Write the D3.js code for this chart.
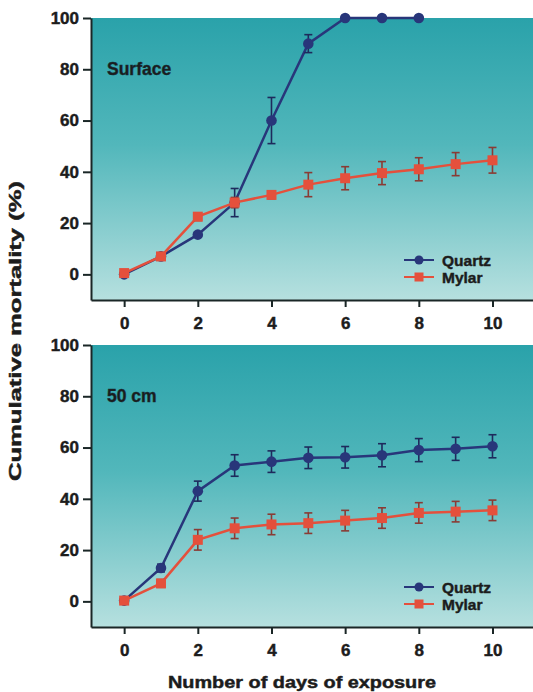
<!DOCTYPE html>
<html>
<head>
<meta charset="utf-8">
<script src="https://cdn.jsdelivr.net/npm/d3@7/dist/d3.min.js"></script>
<style>
  html, body { margin: 0; padding: 0; background: #ffffff; }
  svg { display: block; }
  text { font-family: "Liberation Sans", Arial, Helvetica, sans-serif; font-weight: bold; fill: #1c1c1c; stroke: #1c1c1c; stroke-width: 0.45px; }
</style>
</head>
<body>
<svg id="chart" width="533" height="692"></svg>
<script>
// Days of exposure
const days = [0, 1, 2, 3, 4, 5, 6, 7, 8, 9, 10];
const xTicks = [0, 2, 4, 6, 8, 10];
const yTicks = [0, 20, 40, 60, 80, 100];

// Surface: cumulative mortality (%) and error half-widths
const surfaceQuartz = [0, 7, 15.5, 28, 60, 90, 100, 100, 100];
const surfaceQuartzErr = [0, 1, 1, 5.5, 9, 3.5, 0, 0, 0];
const surfaceMylar = [0.5, 7, 22.5, 28, 31, 35, 37.5, 39.5, 41, 43, 44.5];
const surfaceMylarErr = [0, 1, 1.5, 2, 1.5, 4.7, 4.5, 4.5, 4.5, 4.5, 5];

// 50 cm: cumulative mortality (%) and error half-widths
const deepQuartz = [0.3, 13, 43, 53, 54.5, 56, 56.2, 57, 59, 59.5, 60.5];
const deepQuartzErr = [0, 1.5, 3.9, 4.2, 4.2, 4.2, 4.2, 4.5, 4.5, 4.5, 4.5];
const deepMylar = [0.3, 7, 24, 28.5, 30, 30.5, 31.5, 32.5, 34.5, 35, 35.5];
const deepMylarErr = [0, 1.5, 4, 4, 4, 4, 4, 4, 4, 4, 4];

const seriesNames = ["Quartz", "Mylar"];
const quartzColor = "#28367a";
const mylarColor = "#e4503c";

const svg = d3.select("#chart");

const defs = svg.append("defs");
const grad = defs.append("linearGradient")
  .attr("id", "bg").attr("x1", 0).attr("y1", 0).attr("x2", 0).attr("y2", 1);
grad.append("stop").attr("offset", "0%").attr("stop-color", "#2aa2aa");
grad.append("stop").attr("offset", "45%").attr("stop-color", "#52b7bb");
grad.append("stop").attr("offset", "100%").attr("stop-color", "#b6e0df");

const x = d3.scaleLinear().domain([-0.9, 11.1]).range([91, 533]);

function panel(top, bottom, label, quartz, quartzErr, mylar, mylarErr, legendY) {
  const y = d3.scaleLinear().domain([-10, 100]).range([bottom, top]);
  const g = svg.append("g");

  g.append("rect")
    .attr("x", x.range()[0]).attr("y", top)
    .attr("width", x.range()[1] - x.range()[0]).attr("height", bottom - top)
    .attr("fill", "url(#bg)");

  const yAxis = g.append("g")
    .attr("transform", `translate(${x.range()[0]},0)`)
    .call(d3.axisLeft(y).tickValues(yTicks).tickSize(8).tickSizeOuter(0).tickPadding(4));
  const xAxis = g.append("g")
    .attr("transform", `translate(0,${bottom})`)
    .call(d3.axisBottom(x).tickValues(xTicks).tickSize(7).tickSizeOuter(0).tickPadding(10));

  [yAxis, xAxis].forEach(a => {
    a.select(".domain").attr("stroke", "#1a2626").attr("stroke-width", 2);
    a.selectAll(".tick line").attr("stroke", "#1a2626").attr("stroke-width", 2);
    a.selectAll(".tick text")
      .attr("font-size", 17)
      .attr("font-family", "Liberation Sans, Arial, sans-serif")
      .attr("font-weight", "bold")
      .attr("fill", "#1c1c1c");
  });

  g.append("text")
    .attr("x", 107).attr("y", y(80) + 6)
    .attr("font-size", 17.5).attr("fill", "#14303a").style("stroke", "#14303a")
    .text(label);

  const line = d3.line().x((d, i) => x(days[i])).y(d => y(d));

  function drawSeries(vals, errs, color, errColor, shape) {
    const s = g.append("g");
    s.append("path").datum(vals)
      .attr("d", line).attr("fill", "none")
      .attr("stroke", color).attr("stroke-width", 2.5);
    const eb = s.selectAll(".err").data(vals.map((v, i) => ({ v, e: errs[i], d: days[i] })).filter(o => o.e > 0))
      .enter().append("g");
    eb.append("line")
      .attr("x1", o => x(o.d)).attr("x2", o => x(o.d))
      .attr("y1", o => y(o.v - o.e)).attr("y2", o => y(o.v + o.e))
      .attr("stroke", errColor).attr("stroke-width", 1.6);
    [-1, 1].forEach(sgn => {
      eb.append("line")
        .attr("x1", o => x(o.d) - 4).attr("x2", o => x(o.d) + 4)
        .attr("y1", o => y(o.v + sgn * o.e)).attr("y2", o => y(o.v + sgn * o.e))
        .attr("stroke", errColor).attr("stroke-width", 1.6);
    });
    if (shape === "circle") {
      s.selectAll("circle").data(vals).enter().append("circle")
        .attr("cx", (d, i) => x(days[i])).attr("cy", d => y(d))
        .attr("r", 5.3).attr("fill", color);
    } else {
      s.selectAll("rect").data(vals).enter().append("rect")
        .attr("x", (d, i) => x(days[i]) - 5).attr("y", d => y(d) - 5)
        .attr("width", 10).attr("height", 10).attr("fill", color);
    }
  }

  drawSeries(quartz, quartzErr, quartzColor, "#1e2a5c", "circle");
  drawSeries(mylar, mylarErr, mylarColor, "#8a3b34", "square");

  // legend
  const leg = g.append("g");
  seriesNames.forEach((name, i) => {
    const ly = legendY + i * 17;
    const color = i === 0 ? quartzColor : mylarColor;
    leg.append("line").attr("x1", 404).attr("x2", 434).attr("y1", ly).attr("y2", ly)
      .attr("stroke", color).attr("stroke-width", 2);
    if (i === 0) {
      leg.append("circle").attr("cx", 419).attr("cy", ly).attr("r", 4.5).attr("fill", color);
    } else {
      leg.append("rect").attr("x", 414.5).attr("y", ly - 4.5).attr("width", 9).attr("height", 9).attr("fill", color);
    }
    leg.append("text").attr("x", 442).attr("y", ly + 5.5)
      .attr("font-size", 15.5).attr("fill", "#1c1c1c").text(name);
  });
}

panel(18, 300, "Surface", surfaceQuartz, surfaceQuartzErr, surfaceMylar, surfaceMylarErr, 260);
panel(345, 627, "50 cm", deepQuartz, deepQuartzErr, deepMylar, deepMylarErr, 587);

// axis titles
svg.append("text")
  .attr("transform", "translate(21,331) rotate(-90)")
  .attr("text-anchor", "middle")
  .attr("font-size", 16)
  .attr("textLength", 300).attr("lengthAdjust", "spacingAndGlyphs")
  .text("Cumulative mortality  (%)");

svg.append("text")
  .attr("x", 302).attr("y", 688)
  .attr("text-anchor", "middle")
  .attr("font-size", 16)
  .attr("textLength", 268).attr("lengthAdjust", "spacingAndGlyphs")
  .text("Number of days of exposure");
</script>
</body>
</html>
